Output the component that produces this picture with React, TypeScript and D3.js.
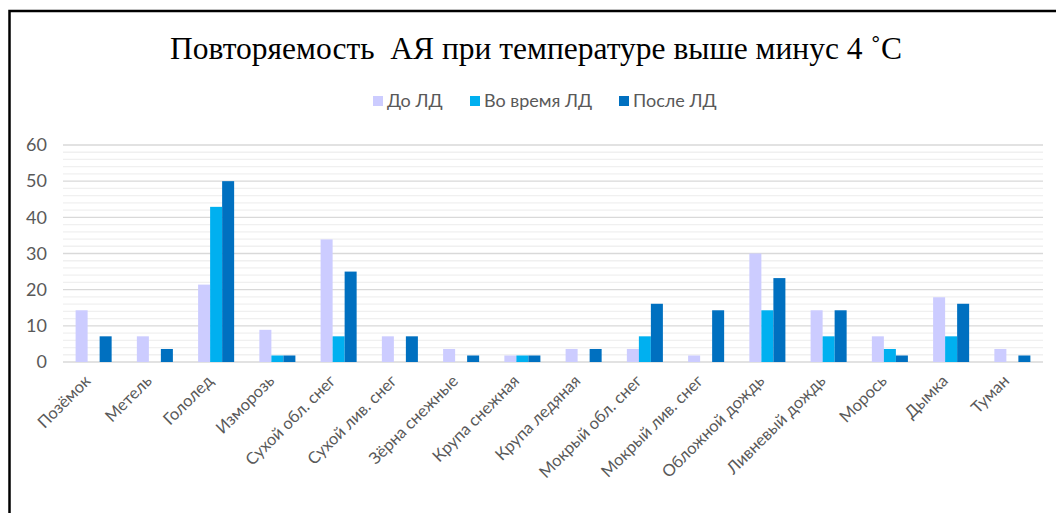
import * as d3 from "d3";

// категории (виды атмосферных явлений)
const categories = [
  "Позёмок",
  "Метель",
  "Гололед",
  "Изморозь",
  "Сухой обл. снег",
  "Сухой лив. снег",
  "Зёрна снежные",
  "Крупа снежная",
  "Крупа ледяная",
  "Мокрый обл. снег",
  "Мокрый лив. снег",
  "Обложной дождь",
  "Ливневый дождь",
  "Морось",
  "Дымка",
  "Туман",
];

const seriesNames = ["До ЛД", "Во время ЛД", "После ЛД"];

const beforeValues = [14.3, 7.1, 21.4, 8.9, 33.9, 7.1, 3.6, 1.8, 3.6, 3.6, 1.8, 30.0, 14.3, 7.1, 17.9, 3.6];
const duringValues = [0, 0, 42.9, 1.8, 7.1, 0, 0, 1.8, 0, 7.1, 0, 14.3, 7.1, 3.6, 7.1, 0];
const afterValues = [7.1, 3.6, 50.0, 1.8, 25.0, 7.1, 1.8, 1.8, 3.6, 16.1, 14.3, 23.2, 14.3, 1.8, 16.1, 1.8];

const yTicks = [0, 10, 20, 30, 40, 50, 60];

const colors = ["#CCCCFF", "#00B0F0", "#0070C0"];

const W = 1056;
const H = 513;
const margin = { left: 63, right: 13, top: 145, bottom: 151 };
const uiFont = "Lato, 'Open Sans', sans-serif";

export default function App() {
  const series = [beforeValues, duringValues, afterValues];
  // ширина зазора 210% от ширины столбца
  const gap = 2.1;
  const x = d3
    .scaleBand<string>()
    .domain(categories)
    .range([margin.left, W - margin.right])
    .paddingInner(gap / (3 + gap))
    .paddingOuter(gap / 2 / (3 + gap));
  const barW = x.bandwidth() / 3;
  const y = d3.scaleLinear().domain([0, 60]).range([H - margin.bottom, margin.top]);
  const minor = d3.range(0, 61, 2).filter((v) => v % 10 !== 0);

  const legendX = [373, 470, 619];

  return (
    <svg
      width={W}
      height={H}
      style={{ position: "fixed", left: 0, top: 0, background: "#fff" }}
    >
      <rect x={0} y={0} width={W} height={H} fill="#fff" />
      {/* рамка */}
      <path d={`M9.5,${H} V11 H${W}`} fill="none" stroke="#000" strokeWidth={2.5} />

      <text
        x={536}
        y={59}
        textAnchor="middle"
        fontFamily="'Liberation Serif', 'Times New Roman', serif"
        fontSize={31.5}
        fill="#000"
      >
        Повторяемость&#160; АЯ при температуре выше минус 4 ˚С
      </text>

      {seriesNames.map((name, i) => (
        <g key={name} transform={`translate(${legendX[i]},101)`}>
          <rect x={0} y={-5} width={10} height={10} fill={colors[i]} />
          <text x={14} y={0} dy="0.35em" fontFamily={uiFont} fontSize={18} fill="#595959">
            {name}
          </text>
        </g>
      ))}

      {minor.map((v) => (
        <line
          key={"m" + v}
          x1={margin.left}
          x2={W - margin.right}
          y1={y(v)}
          y2={y(v)}
          stroke="#F0F0F0"
          strokeWidth={1.3}
        />
      ))}
      {yTicks.map((v) => (
        <g key={v}>
          <line
            x1={margin.left}
            x2={W - margin.right}
            y1={y(v)}
            y2={y(v)}
            stroke="#D9D9D9"
            strokeWidth={1.3}
          />
          <text
            x={47}
            y={y(v)}
            dy="0.35em"
            textAnchor="end"
            fontFamily={uiFont}
            fontSize={18}
            fill="#595959"
          >
            {v}
          </text>
        </g>
      ))}

      {categories.map((c, ci) => {
        const x0 = x(c) ?? 0;
        return (
          <g key={c}>
            {series.map((vals, si) => (
              <rect
                key={si}
                x={x0 + si * barW}
                y={y(vals[ci])}
                width={barW}
                height={y(0) - y(vals[ci])}
                fill={colors[si]}
              />
            ))}
          </g>
        );
      })}

      {categories.map((c) => {
        const cx = (x(c) ?? 0) + x.bandwidth() / 2;
        return (
          <text
            key={"l" + c}
            transform={`translate(${cx - 2},${y(0) + 20}) rotate(-45)`}
            textAnchor="end"
            fontFamily={uiFont}
            fontSize={16.5}
            fill="#595959"
          >
            {c}
          </text>
        );
      })}
    </svg>
  );
}
